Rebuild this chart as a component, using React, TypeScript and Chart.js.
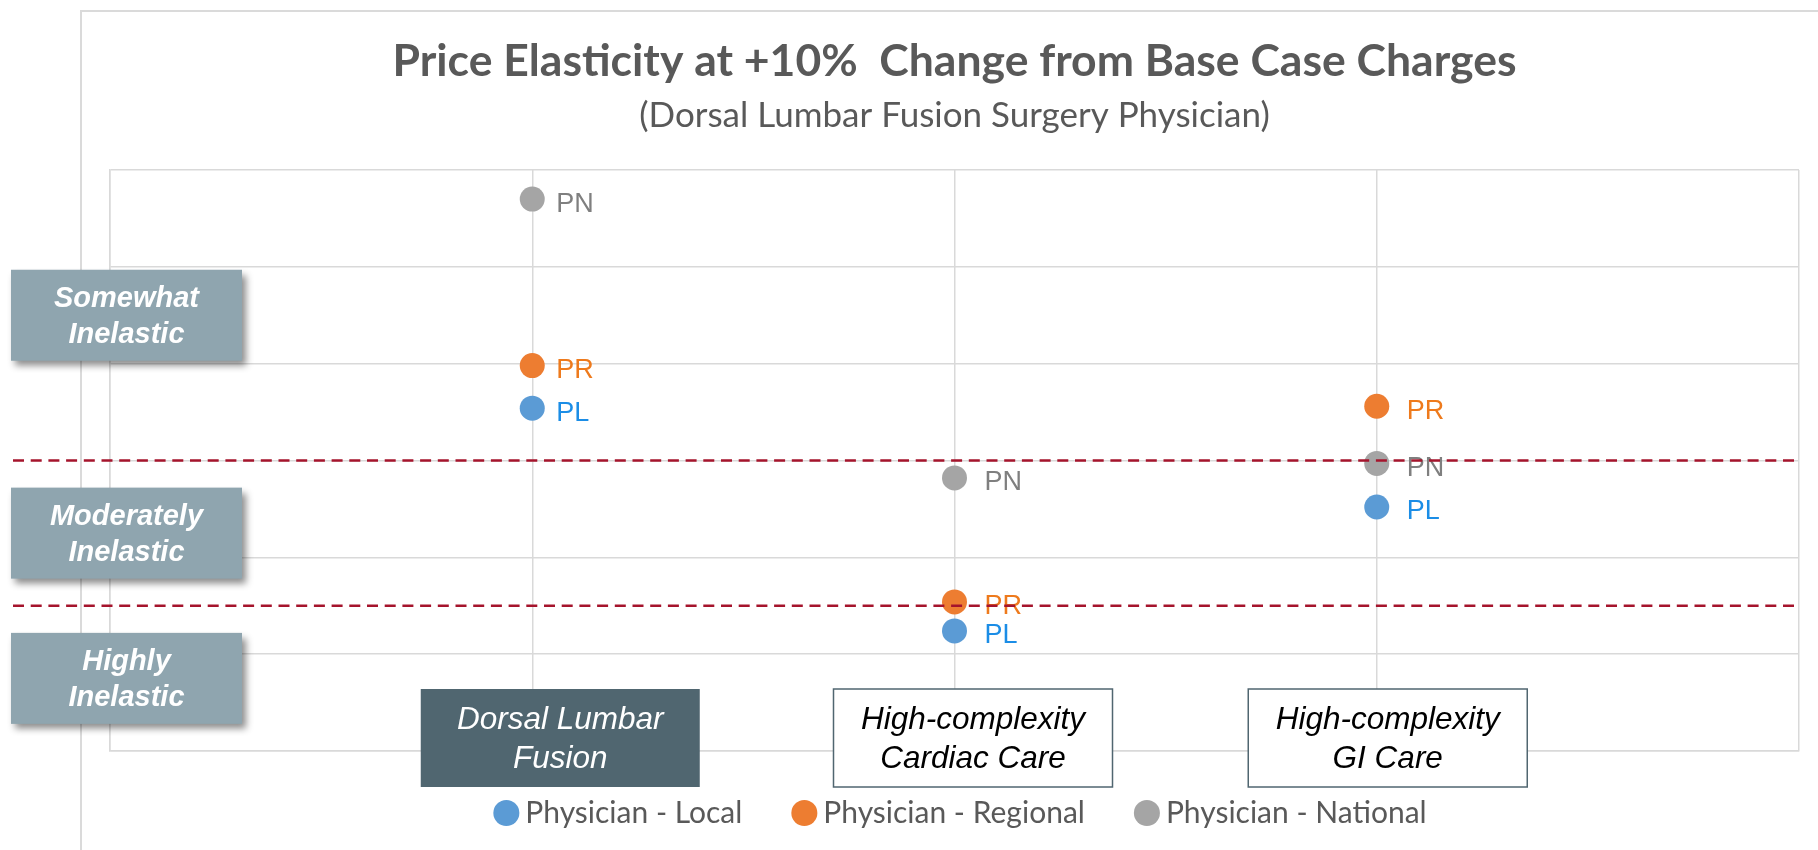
import React, { useEffect, useRef } from 'react';
import { Chart, registerables } from 'chart.js';

Chart.register(...registerables);

// ---------- data ----------
const titleText = 'Price Elasticity at +10%  Change from Base Case Charges';
const subtitleText = '(Dorsal Lumbar Fusion Surgery Physician)';
const categories = ['Dorsal Lumbar Fusion', 'High-complexity Cardiac Care', 'High-complexity GI Care'];
const categoryLines = [
  ['Dorsal Lumbar', 'Fusion'],
  ['High-complexity', 'Cardiac Care'],
  ['High-complexity', 'GI Care'],
];
const seriesNames = ['Physician - Local', 'Physician - Regional', 'Physician - National'];
const seriesShort = ['PL', 'PR', 'PN'];
const localValues = [0.354, 0.124, 0.252];
const regionalValues = [0.398, 0.154, 0.356];
const nationalValues = [0.57, 0.282, 0.297];
const bandLabels = [
  ['Somewhat', 'Inelastic'],
  ['Moderately', 'Inelastic'],
  ['Highly', 'Inelastic'],
];
const bandEdges = [0.6, 0.3, 0.15, 0];
const thresholds = [0.3, 0.15];
const yMin = 0;
const yMax = 0.6;
const yStep = 0.1;

// ---------- styles ----------
const markerColors = ['#5B9BD5', '#ED7D31', '#A5A5A5'];
const labelColors = ['#1B8DE6', '#EE7A1C', '#7F7F7F'];
const gridColor = '#D9D9D9';

const decorPlugin = {
  id: 'decor',
  afterLayout(chart: any) {
    const lg = chart.legend;
    if (lg) {
      lg.top -= 11;
      lg.bottom -= 11;
      lg.left += 10;
      lg.right += 10;
    }
  },
  beforeDraw(chart: any) {
    const ctx = chart.ctx;
    const area = chart.chartArea;
    ctx.save();
    ctx.strokeStyle = '#DADADA';
    ctx.lineWidth = 2;
    ctx.beginPath();
    ctx.moveTo(area.left - 29, chart.height);
    ctx.lineTo(area.left - 29, 11);
    ctx.lineTo(chart.width, 11);
    ctx.stroke();
    ctx.restore();
  },
  afterDatasetsDraw(chart: any) {
    const ctx = chart.ctx;
    const area = chart.chartArea;
    const xs = chart.scales.x;
    const ys = chart.scales.y;
    ctx.save();
    // point labels
    const labelDx = [24, 30, 30];
    ctx.font = '27px "Liberation Sans", Arial, sans-serif';
    ctx.textAlign = 'left';
    ctx.textBaseline = 'middle';
    chart.data.datasets.forEach((ds: any, i: number) => {
      const meta = chart.getDatasetMeta(i);
      ctx.fillStyle = labelColors[i];
      meta.data.forEach((pt: any, k: number) => {
        ctx.fillText(seriesShort[i], pt.x + labelDx[k], pt.y + 5);
      });
    });
    // threshold dashed lines
    ctx.strokeStyle = '#A5142C';
    ctx.lineWidth = 2.6;
    ctx.setLineDash([11, 6.7]);
    thresholds.forEach((t) => {
      const y = ys.getPixelForValue(t);
      ctx.beginPath();
      ctx.moveTo(13, y);
      ctx.lineTo(area.right, y);
      ctx.stroke();
    });
    ctx.setLineDash([]);

    // band label boxes
    for (let b = 0; b < bandLabels.length; b++) {
      const mid = ys.getPixelForValue((bandEdges[b] + bandEdges[b + 1]) / 2);
      const bx = area.left - 99;
      const bw = 231;
      const bh = 91;
      const by = mid - bh / 2;
      ctx.save();
      ctx.shadowColor = 'rgba(0,0,0,0.45)';
      ctx.shadowBlur = 7;
      ctx.shadowOffsetX = 4;
      ctx.shadowOffsetY = 5;
      ctx.fillStyle = '#8FA5AF';
      ctx.fillRect(bx, by, bw, bh);
      ctx.restore();
      ctx.fillStyle = '#FFFFFF';
      ctx.font = 'italic bold 29px "Liberation Sans", Arial, sans-serif';
      ctx.textAlign = 'center';
      ctx.textBaseline = 'middle';
      ctx.fillText(bandLabels[b][0], bx + bw / 2, mid - 16);
      ctx.fillText(bandLabels[b][1], bx + bw / 2, mid + 20);
    }

    // category boxes
    const offsets = [28, 18.5, 11];
    for (let c = 0; c < categoryLines.length; c++) {
      const cx = xs.getPixelForValue(c + 1) + offsets[c];
      const bw = 279;
      const bh = 98;
      const by = area.bottom - 62;
      const bx = cx - bw / 2;
      if (c === 0) {
        ctx.fillStyle = '#506670';
        ctx.fillRect(bx, by, bw, bh);
      } else {
        ctx.fillStyle = '#FFFFFF';
        ctx.fillRect(bx, by, bw, bh);
        ctx.strokeStyle = '#506670';
        ctx.lineWidth = 1.5;
        ctx.strokeRect(bx, by, bw, bh);
      }
      ctx.fillStyle = c === 0 ? '#FFFFFF' : '#000000';
      ctx.font = 'italic 31.5px "Liberation Sans", Arial, sans-serif';
      ctx.textAlign = 'center';
      ctx.textBaseline = 'middle';
      ctx.fillText(categoryLines[c][0], cx, by + bh / 2 - 18);
      ctx.fillText(categoryLines[c][1], cx, by + bh / 2 + 21);
    }
    ctx.restore();
  },
};

export default function App() {
  const canvasRef = useRef<HTMLCanvasElement | null>(null);

  useEffect(() => {
    const canvas = canvasRef.current;
    if (!canvas) return;
    const seriesValues = [localValues, regionalValues, nationalValues];
    const chart = new Chart(canvas, {
      type: 'scatter',
      data: {
        datasets: seriesNames.map((name, i) => ({
          label: name,
          data: seriesValues[i].map((v, k) => ({ x: k + 1, y: v })),
          backgroundColor: markerColors[i],
          borderColor: markerColors[i],
          borderWidth: 0,
          pointRadius: 12.5,
          pointHoverRadius: 12.5,
          pointStyle: 'circle',
        })),
      },
      options: {
        animation: false,
        responsive: false,
        devicePixelRatio: 1,
        layout: { padding: { left: 110, right: 19, top: 0, bottom: 1 } },
        scales: {
          x: {
            type: 'linear',
            min: 0,
            max: categories.length + 1,
            ticks: { display: false, stepSize: 1 },
            grid: { color: gridColor, lineWidth: 1.5, drawTicks: false },
            border: { color: gridColor, width: 1.5 },
          },
          y: {
            type: 'linear',
            min: yMin,
            max: yMax,
            ticks: { display: false, stepSize: yStep },
            grid: { color: gridColor, lineWidth: 1.5, drawTicks: false },
            border: { color: gridColor, width: 1.5 },
          },
        },
        plugins: {
          title: {
            display: true,
            text: titleText,
            color: '#595959',
            font: { family: 'Lato', size: 44.5, weight: 'bold', lineHeight: 1.2 },
            padding: { top: 35.3, bottom: 0 },
          },
          subtitle: {
            display: true,
            text: subtitleText,
            color: '#595959',
            font: { family: 'Lato', size: 35, weight: 'normal', lineHeight: 1.2 },
            padding: { top: 6.3, bottom: 33 },
          },
          legend: {
            display: true,
            position: 'bottom',
            labels: {
              usePointStyle: true,
              pointStyle: 'circle',
              boxWidth: 8,
              boxHeight: 18.4,
              padding: 58,
              color: '#595959',
              font: { family: 'Lato', size: 30 },
            },
          },
          tooltip: { enabled: false },
        },
      },
      plugins: [decorPlugin],
    });
    return () => chart.destroy();
  }, []);

  return (
    <div style={{ position: 'absolute', left: 0, top: 0, width: 1818, height: 850, background: '#fff' }}>
      <canvas ref={canvasRef} width={1818} height={850} style={{ display: 'block' }} />
    </div>
  );
}
